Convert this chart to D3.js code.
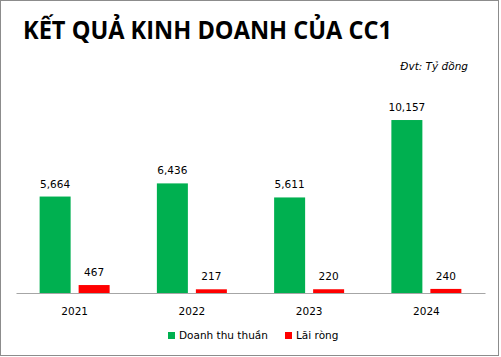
<!DOCTYPE html>
<html><head><meta charset="utf-8">
<script src="https://cdn.jsdelivr.net/npm/d3@7"></script>
<style>body{margin:0;background:#fff}svg{display:block}</style>
</head><body>
<script>
const years = ["2021","2022","2023","2024"];
const revenue = [5664, 6436, 5611, 10157];
const profit = [467, 217, 220, 240];
const seriesNames = ["Doanh thu thuần", "Lãi ròng"];
const colors = ["#00B050", "#FF0000"];
const title = "KẾT QUẢ KINH DOANH CỦA CC1";
const unit = "Đvt: Tỷ đồng";

const W = 501, H = 357;
const svg = d3.select("body").append("svg").attr("width", W).attr("height", H);
svg.append("rect").attr("x",0.5).attr("y",0.5).attr("width",498).attr("height",355)
  .attr("fill","#fff").attr("stroke","#8c8c8c");

const font = "DejaVu Sans, Verdana, sans-serif";
svg.append("text").attr("x",23).attr("y",39).text(title)
  .attr("font-family","Open Sans, sans-serif").attr("font-weight","bold").attr("font-size",24.5)
  .attr("textLength",369).attr("lengthAdjust","spacingAndGlyphs").attr("fill","#000");
svg.append("text").attr("x",468).attr("y",70).attr("text-anchor","end").text(unit)
  .attr("font-family",font).attr("font-style","italic").attr("font-size",10.5).attr("fill","#000");

const x0 = d3.scaleBand().domain(years).range([16,485]);
const y = d3.scaleLinear().domain([0,12000]).range([293, 293-12000*0.01703]);
const bw = 31, gap = 8;
const data = years.map((yr,i)=>({yr, vals:[revenue[i], profit[i]]}));

const g = svg.append("g");
data.forEach(d=>{
  const c = x0(d.yr) + x0.bandwidth()/2;
  d.vals.forEach((v,k)=>{
    const bx = k===0 ? c - gap/2 - bw : c + gap/2;
    g.append("rect").attr("x",bx).attr("y",y(v)).attr("width",bw).attr("height",y(0)-y(v)).attr("fill",colors[k]);
    g.append("text").attr("x",bx+bw/2).attr("y",y(v)-9).attr("text-anchor","middle")
      .text(d3.format(",")(v)).attr("font-family",font).attr("font-size",10.5).attr("fill","#000");
  });
});

const ax = svg.append("g").attr("transform","translate(0,293)")
  .call(d3.axisBottom(x0).tickSize(0).tickPadding(14.5));
ax.select(".domain").attr("stroke","#a6a6a6");
ax.selectAll("text").attr("font-family",font).attr("font-size",10.5).attr("fill","#000");

const leg = [{x:168, t:seriesNames[0], c:colors[0]},{x:285, t:seriesNames[1], c:colors[1]}];
leg.forEach(l=>{
  svg.append("rect").attr("x",l.x).attr("y",332).attr("width",7).attr("height",7).attr("fill",l.c);
  svg.append("text").attr("x",l.x+11).attr("y",339).text(l.t)
    .attr("font-family",font).attr("font-size",10.5).attr("fill","#000");
});
</script>
</body></html>
